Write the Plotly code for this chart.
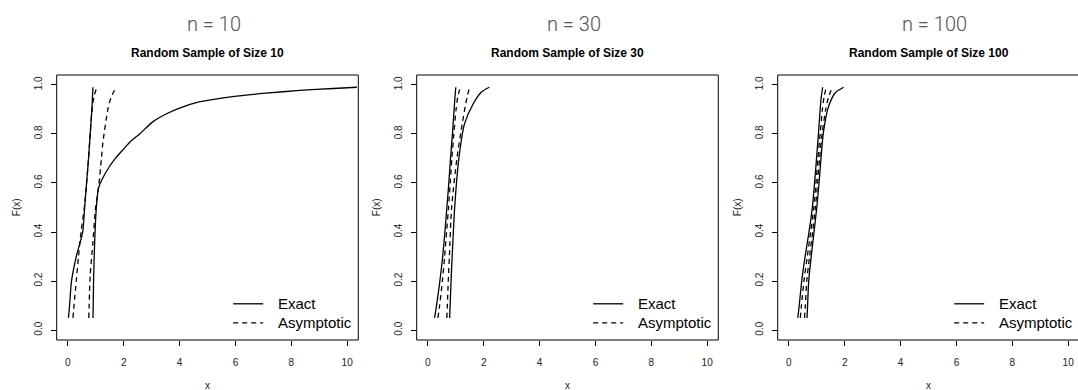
import plotly.graph_objects as go

W, H = 1078, 390

# ---------------- data ----------------
headers = ["n = 10", "n = 30", "n = 100"]
titles = ["Random Sample of Size 10", "Random Sample of Size 30", "Random Sample of Size 100"]
x_ticks = [0, 2, 4, 6, 8, 10]
x_tick_labels = ["0", "2", "4", "6", "8", "10"]
y_ticks = [0.0, 0.2, 0.4, 0.6, 0.8, 1.0]
y_tick_labels = ["0.0", "0.2", "0.4", "0.6", "0.8", "1.0"]
legend_labels = ["Exact", "Asymptotic"]

# Panel 1 (n = 10)
p1_exact_lo_F = [0.05, 0.10, 0.20, 0.30, 0.40, 0.50, 0.60, 0.70, 0.80, 0.90, 0.95, 0.99]
p1_exact_lo_x = [0.02, 0.06, 0.13, 0.30, 0.53, 0.60, 0.67, 0.74, 0.80, 0.86, 0.88, 0.90]
p1_asym_lo_F = [0.05, 0.20, 0.30, 0.40, 0.50, 0.60, 0.70, 0.80, 0.88, 0.95, 0.99]
p1_asym_lo_x = [0.18, 0.30, 0.38, 0.47, 0.59, 0.67, 0.74, 0.80, 0.85, 0.93, 1.04]
p1_exact_hi_F = [0.05, 0.20, 0.36, 0.50, 0.58, 0.62, 0.667, 0.70, 0.735, 0.77, 0.80, 0.85,
                 0.88, 0.905, 0.93, 0.952, 0.966, 0.977, 0.985, 0.99]
p1_exact_hi_x = [0.90, 0.92, 0.96, 1.02, 1.10, 1.25, 1.49, 1.70, 1.97, 2.25, 2.57, 3.05,
                 3.50, 4.00, 4.70, 5.90, 7.10, 8.30, 9.50, 10.35]
p1_asym_hi_F = [0.05, 0.226, 0.362, 0.497, 0.592, 0.70, 0.77, 0.905, 0.95, 0.98]
p1_asym_hi_x = [0.75, 0.80, 0.90, 0.99, 1.11, 1.20, 1.26, 1.44, 1.55, 1.68]

# Panel 2 (n = 30)
p2_exact_lo_F = [0.05, 0.10, 0.20, 0.30, 0.40, 0.50, 0.60, 0.70, 0.80, 0.90, 0.95, 0.99]
p2_exact_lo_x = [0.24, 0.31, 0.43, 0.53, 0.61, 0.68, 0.75, 0.81, 0.88, 0.94, 0.97, 1.00]
p2_asym_lo_F = [0.05, 0.10, 0.20, 0.30, 0.40, 0.50, 0.60, 0.70, 0.80, 0.90, 0.95, 0.99]
p2_asym_lo_x = [0.36, 0.42, 0.52, 0.60, 0.67, 0.74, 0.80, 0.86, 0.93, 1.01, 1.07, 1.16]
p2_exact_hi_F = [0.05, 0.20, 0.30, 0.50, 0.70, 0.84, 0.92, 0.97, 0.99]
p2_exact_hi_x = [0.78, 0.83, 0.87, 0.96, 1.11, 1.31, 1.61, 1.91, 2.20]
p2_asym_hi_F = [0.05, 0.20, 0.30, 0.50, 0.70, 0.84, 0.92, 0.99]
p2_asym_hi_x = [0.68, 0.73, 0.77, 0.85, 1.04, 1.23, 1.35, 1.49]

# Panel 3 (n = 100)
p3_exact_lo_F = [0.05, 0.10, 0.20, 0.30, 0.40, 0.50, 0.60, 0.70, 0.80, 0.90, 0.95, 0.99]
p3_exact_lo_x = [0.32, 0.37, 0.46, 0.58, 0.72, 0.84, 0.92, 0.99, 1.06, 1.12, 1.16, 1.21]
p3_asym_lo_F = [0.05, 0.10, 0.20, 0.30, 0.40, 0.50, 0.60, 0.70, 0.80, 0.90, 0.95, 0.99]
p3_asym_lo_x = [0.41, 0.45, 0.54, 0.66, 0.78, 0.89, 0.97, 1.04, 1.12, 1.20, 1.26, 1.34]
p3_exact_hi_F = [0.05, 0.10, 0.20, 0.30, 0.40, 0.50, 0.60, 0.70, 0.80, 0.90, 0.95, 0.97, 0.99]
p3_exact_hi_x = [0.65, 0.67, 0.71, 0.80, 0.90, 1.00, 1.08, 1.15, 1.23, 1.39, 1.56, 1.68, 1.96]
p3_asym_hi_F = [0.05, 0.10, 0.20, 0.30, 0.40, 0.50, 0.60, 0.70, 0.80, 0.90, 0.95, 0.99]
p3_asym_hi_x = [0.56, 0.59, 0.64, 0.74, 0.85, 0.95, 1.03, 1.10, 1.19, 1.32, 1.42, 1.55]

panels = [
    [(p1_exact_lo_x, p1_exact_lo_F, "solid"), (p1_asym_lo_x, p1_asym_lo_F, "dash"),
     (p1_exact_hi_x, p1_exact_hi_F, "solid"), (p1_asym_hi_x, p1_asym_hi_F, "dash")],
    [(p2_exact_lo_x, p2_exact_lo_F, "solid"), (p2_asym_lo_x, p2_asym_lo_F, "dash"),
     (p2_exact_hi_x, p2_exact_hi_F, "solid"), (p2_asym_hi_x, p2_asym_hi_F, "dash")],
    [(p3_exact_lo_x, p3_exact_lo_F, "solid"), (p3_asym_lo_x, p3_asym_lo_F, "dash"),
     (p3_exact_hi_x, p3_exact_hi_F, "solid"), (p3_asym_hi_x, p3_asym_hi_F, "dash")],
]

# ---------------- layout geometry (pixels) ----------------
box_left = [56.7, 416.7, 777.7]
box_w = 301.6
box_top, box_bot = 75.0, 340.0
x_scale = box_w / 10.8          # px per data unit
x_lo = -0.4
y_range = [-0.04, 1.04]

DASH = "5px,4px"
FONT = "Liberation Sans, Arial, Helvetica, sans-serif"


def px(xp):
    return xp / W


def py(yp):
    return 1 - yp / H


fig = go.Figure()
shapes = []
annotations = []

for i, curves in enumerate(panels):
    k = "" if i == 0 else str(i + 1)
    xa, ya = "x" + k, "y" + k
    left = box_left[i]
    right = min(left + box_w, W)
    dom_w = right - left
    x_hi = x_lo + dom_w / x_scale

    for (xs, fs, dash) in curves:
        fig.add_trace(go.Scatter(
            x=xs, y=fs, mode="lines", xaxis=xa, yaxis=ya, showlegend=False,
            line=dict(color="black", width=1.3, shape="spline", smoothing=0.7,
                      dash=("solid" if dash == "solid" else DASH)),
            hoverinfo="skip"))

    axis_common = dict(showgrid=False, zeroline=False, showline=False,
                       ticks="outside", ticklen=5, tickwidth=1, tickcolor="black",
                       tickfont=dict(family=FONT, size=10, color="#222"))
    fig.update_layout(**{
        "xaxis" + k: dict(domain=[px(left), px(right)], range=[x_lo, x_hi], anchor=ya,
                          tickvals=x_ticks, ticktext=x_tick_labels, ticklabelstandoff=8,
                          **axis_common),
        "yaxis" + k: dict(domain=[py(box_bot), py(box_top)], range=y_range, anchor=xa,
                          tickvals=y_ticks, ticktext=y_tick_labels, tickangle=-90,
                          ticklabelstandoff=5, **axis_common),
    })

    # plot box
    shapes.append(dict(type="rect", xref="paper", yref="paper",
                       x0=px(left), x1=px(left + box_w), y0=py(box_bot), y1=py(box_top),
                       line=dict(color="black", width=1), layer="above"))

    cx = left + box_w / 2
    # header and title
    annotations.append(dict(xref="paper", yref="paper", x=px(cx + 6), y=py(24),
                            text=headers[i], showarrow=False, xanchor="center", yanchor="middle",
                            font=dict(family="Roboto, Open Sans, sans-serif", size=20,
                                      color="#555", weight=300)))
    annotations.append(dict(xref="paper", yref="paper", x=px(cx), y=py(53),
                            text="<b>" + titles[i] + "</b>", showarrow=False,
                            xanchor="center", yanchor="middle",
                            font=dict(family=FONT, size=12, color="black")))
    # axis titles
    annotations.append(dict(xref="paper", yref="paper", x=px(cx), y=py(385),
                            text="x", showarrow=False, xanchor="center", yanchor="middle",
                            font=dict(family=FONT, size=10, color="#222")))
    annotations.append(dict(xref="paper", yref="paper", x=px(left - 40), y=py((box_top + box_bot) / 2),
                            text="F(x)", showarrow=False, xanchor="center", yanchor="middle",
                            textangle=-90, font=dict(family=FONT, size=10, color="#222")))

    # legend (inside, bottom right)
    for j, (lab, yl, d) in enumerate([(legend_labels[0], 303.8, "solid"),
                                      (legend_labels[1], 322.8, DASH)]):
        shapes.append(dict(type="line", xref="paper", yref="paper",
                           x0=px(left + 176.5), x1=px(left + 206.5), y0=py(yl), y1=py(yl),
                           line=dict(color="black", width=1.3, dash=d)))
        annotations.append(dict(xref="paper", yref="paper", x=px(left + 219.5), y=py(yl),
                                text=lab, showarrow=False, xanchor="left", yanchor="middle",
                                font=dict(family=FONT, size=15, color="black")))

fig.update_layout(
    width=W, height=H, margin=dict(l=0, r=0, t=0, b=0),
    paper_bgcolor="white", plot_bgcolor="white",
    shapes=shapes, annotations=annotations, showlegend=False,
)

fig.write_html("out.html")
